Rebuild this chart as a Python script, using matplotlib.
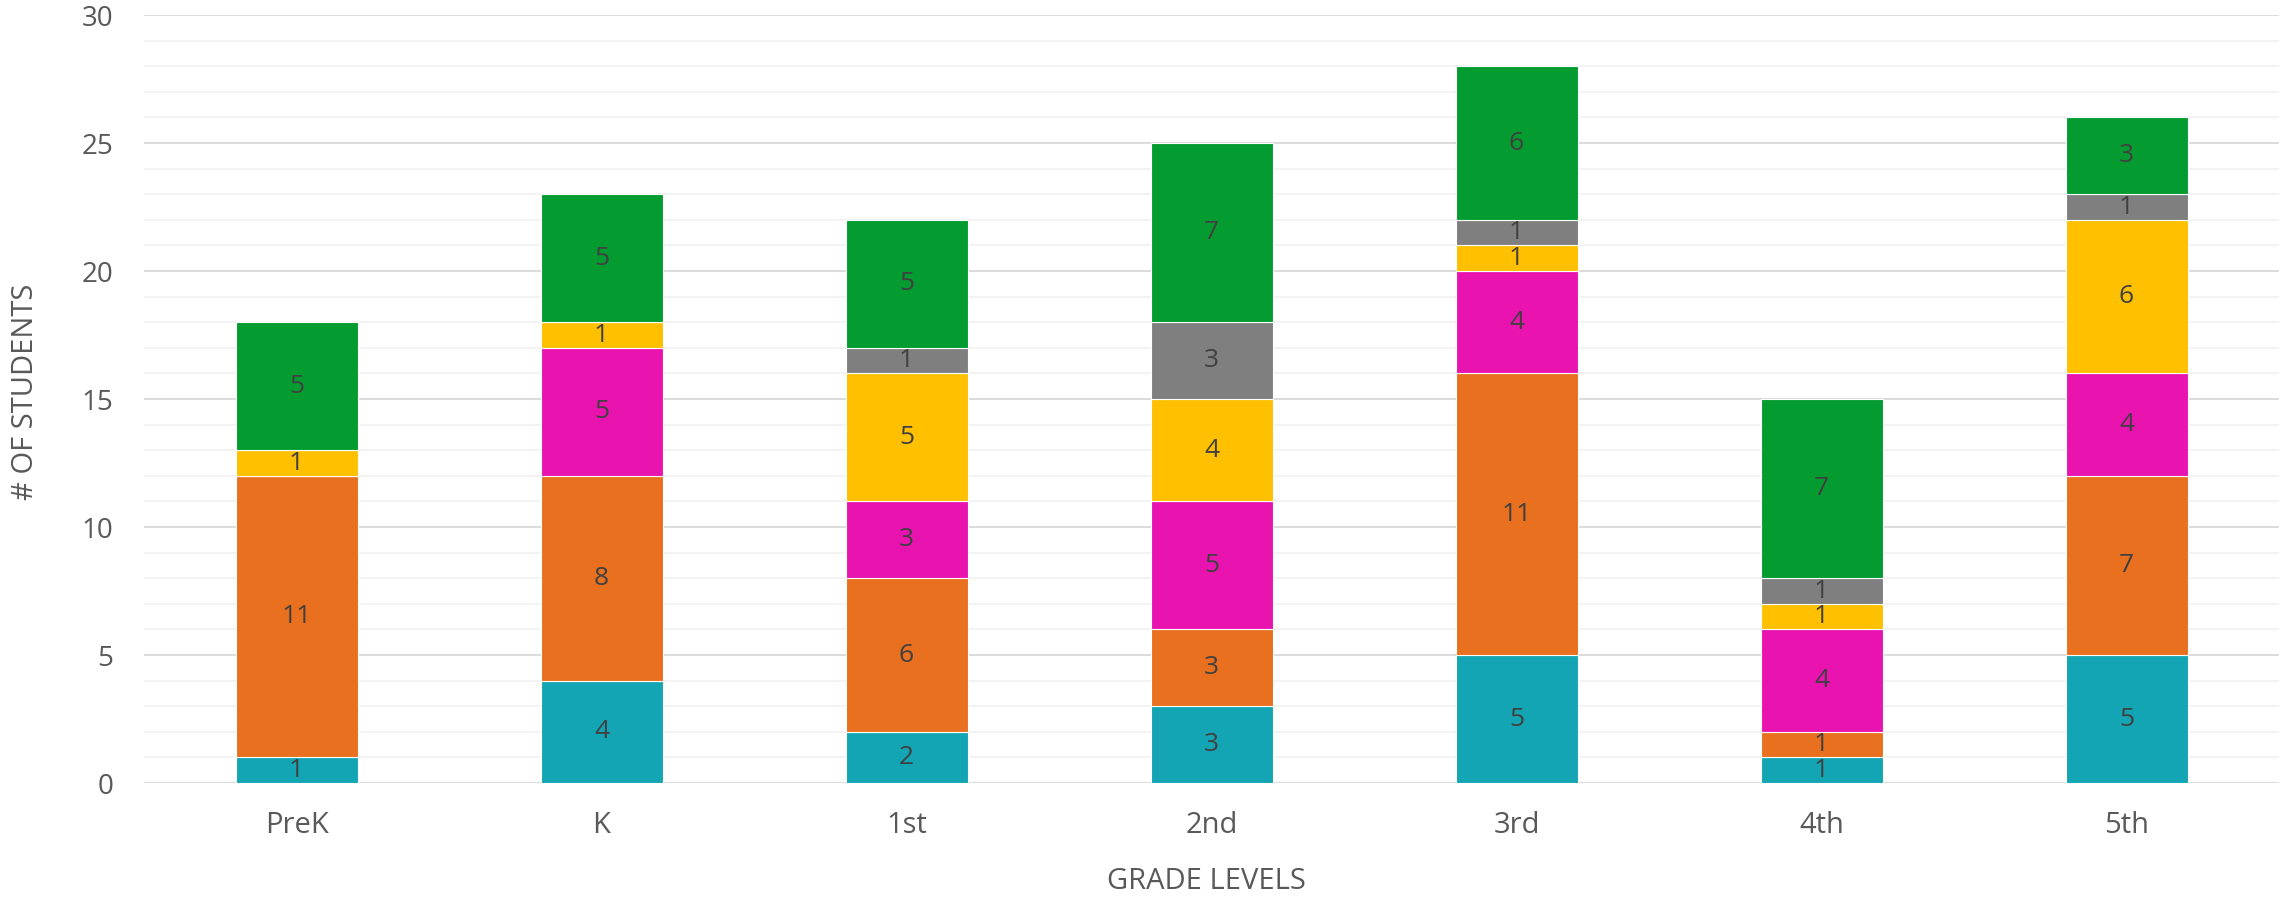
import matplotlib
matplotlib.use("Agg")
import matplotlib.pyplot as plt
import numpy as np

categories = ["PreK", "K", "1st", "2nd", "3rd", "4th", "5th"]
series_teal = [1, 4, 2, 3, 5, 1, 5]
series_orange = [11, 8, 6, 3, 11, 1, 7]
series_magenta = [0, 5, 3, 5, 4, 4, 4]
series_yellow = [1, 1, 5, 4, 1, 1, 6]
series_gray = [0, 0, 1, 3, 1, 1, 1]
series_green = [5, 5, 5, 7, 6, 7, 3]
series = [series_teal, series_orange, series_magenta, series_yellow, series_gray, series_green]
colors = ["#13A5B3", "#E8701E", "#E914B0", "#FFC000", "#7F7F7F", "#049C30"]

plt.rcParams['font.family'] = ['Open Sans', 'DejaVu Sans']

W, H = 2283, 897
fig = plt.figure(figsize=(W / 100, H / 100), dpi=100)
ax = fig.add_axes([144 / W, 1 - 783 / H, (2279 - 144) / W, (783 - 15) / H])

x = np.arange(len(categories))
bottom = np.zeros(len(categories))
for vals, c in zip(series, colors):
    vals = np.array(vals, dtype=float)
    ax.bar(x, vals, width=0.4, bottom=bottom, color=c, edgecolor="white", linewidth=0.8, zorder=3)
    for xi, v, b in zip(x, vals, bottom):
        if v > 0:
            ax.text(xi, b + v / 2, f"{int(v)}", ha="center", va="center",
                    fontsize=19, color="#404040", zorder=4)
    bottom += vals

ax.set_xlim(-0.5, len(categories) - 0.5)
ax.set_ylim(0, 30)
ax.set_yticks(np.arange(0, 31, 5))
ax.set_yticks(np.arange(0, 31, 1), minor=True)
ax.grid(axis="y", which="major", color="#D9D9D9", linewidth=1.3, zorder=0)
ax.grid(axis="y", which="minor", color="#F2F2F2", linewidth=1.3, zorder=0)
ax.set_axisbelow(True)
for s in ax.spines.values():
    s.set_visible(False)
ax.tick_params(axis="both", which="both", length=0, labelcolor="#595959")
ax.tick_params(axis="y", labelsize=20, pad=22)
ax.tick_params(axis="x", labelsize=21, pad=20)
ax.set_xticks(x)
ax.set_xticklabels(categories)

fig.text(1206 / W, 1 - 881 / H, "GRADE LEVELS", fontsize=21, color="#595959",
         ha="center", va="center")
fig.text(26 / W, 1 - 392 / H, "# OF STUDENTS", fontsize=21, color="#595959",
         ha="center", va="center", rotation=90)

fig.savefig("out.png", dpi=100)
